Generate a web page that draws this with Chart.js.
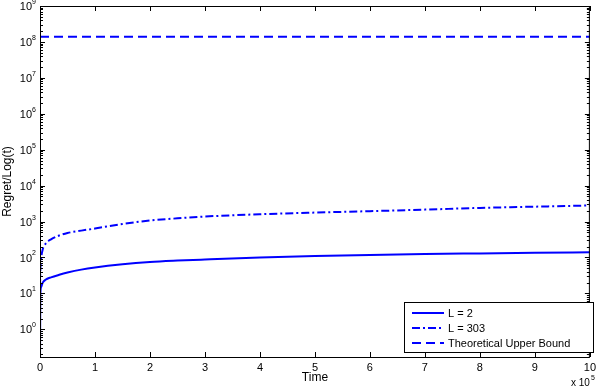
<!DOCTYPE html>
<html>
<head>
<meta charset="utf-8">
<script src="https://cdn.jsdelivr.net/npm/chart.js@4/dist/chart.umd.min.js"></script>
<style>
  html, body { margin: 0; padding: 0; background: #fff; }
  #wrap { width: 600px; height: 388px; }
</style>
</head>
<body>
<div id="wrap"><canvas id="regret" width="600" height="388"></canvas></div>
<script>
// time in units of 10^5
const times = [0, 0.005, 0.02, 0.05, 0.1, 0.2, 0.35, 0.5, 0.75, 1, 1.5, 2, 2.5, 3, 4, 5, 6, 7, 8, 9, 10];
const regretL2 = [0.1, 8, 15, 20, 24, 28, 33, 38, 46, 53, 65, 75, 82, 88, 100, 110, 118, 125, 130, 135, 140];
const regretL303 = [15, 40, 90, 170, 240, 320, 410, 480, 560, 640, 860, 1070, 1230, 1380, 1600, 1780, 1950, 2150, 2400, 2600, 2800];
const boundTimes = [0, 10];
const boundValues = [1.4e8, 1.4e8];
const xTicks = [0, 1, 2, 3, 4, 5, 6, 7, 8, 9, 10];
const yExponents = [0, 1, 2, 3, 4, 5, 6, 7, 8, 9];
const seriesLabels = ['L = 2', 'L = 303', 'Theoretical Upper Bound'];

const FONT = 'Liberation Sans, Arial, sans-serif';
const BLUE = '#0000ff';

const pts = (xs, ys) => xs.map((x, i) => ({ x: x, y: ys[i] }));

// box, inward ticks, y labels and legend, MATLAB style
const matlabAxes = {
  id: 'matlabAxes',
  afterDraw(chart) {
    const { ctx, chartArea: a, scales: { x, y } } = chart;
    ctx.save();
    ctx.strokeStyle = '#000';
    ctx.lineWidth = 1;
    ctx.strokeRect(a.left + 0.5, a.top + 0.5, a.right - a.left - 1, a.bottom - a.top);
    ctx.beginPath();
    xTicks.forEach(v => {
      const px = Math.round(x.getPixelForValue(v)) + 0.5;
      ctx.moveTo(px, a.bottom); ctx.lineTo(px, a.bottom - 5);
      ctx.moveTo(px, a.top); ctx.lineTo(px, a.top + 5);
    });
    for (let k = -1; k <= 9; k++) {
      for (let m = 1; m <= 9; m++) {
        const v = m * Math.pow(10, k);
        if (v < y.min || v > y.max) continue;
        const py = Math.round(y.getPixelForValue(v)) + 0.5;
        const len = m === 1 ? 5 : 3;
        ctx.moveTo(a.left, py); ctx.lineTo(a.left + len, py);
        ctx.moveTo(a.right, py); ctx.lineTo(a.right - len, py);
      }
    }
    ctx.stroke();

    // y tick labels 10^k
    ctx.fillStyle = '#000';
    ctx.textBaseline = 'middle';
    yExponents.forEach(e => {
      const py = y.getPixelForValue(Math.pow(10, e));
      ctx.font = '11px ' + FONT;
      ctx.textAlign = 'right';
      ctx.fillText('10', a.left - 8, py + 1);
      ctx.font = '7px ' + FONT;
      ctx.textAlign = 'left';
      ctx.fillText(String(e), a.left - 8, py - 4);
    });

    // x multiplier
    ctx.font = '10px ' + FONT;
    ctx.textAlign = 'left';
    ctx.fillText('x 10', 571, 383);
    ctx.font = '7px ' + FONT;
    ctx.fillText('5', 591, 378);

    // legend
    const lx = 404, ly = 302, lw = 189, lh = 50;
    ctx.fillStyle = '#fff';
    ctx.fillRect(lx, ly, lw, lh);
    ctx.strokeStyle = '#000';
    ctx.strokeRect(lx + 0.5, ly + 0.5, lw, lh);
    chart.data.datasets.forEach((ds, i) => {
      const yy = ly + 11 + i * 15;
      ctx.strokeStyle = ds.borderColor;
      ctx.lineWidth = 2;
      ctx.setLineDash(ds.borderDash || []);
      ctx.beginPath();
      ctx.moveTo(lx + 8, yy); ctx.lineTo(lx + 40, yy);
      ctx.stroke();
      ctx.setLineDash([]);
      ctx.fillStyle = '#000';
      ctx.font = '11px ' + FONT;
      ctx.textAlign = 'left';
      ctx.fillText(ds.label, lx + 44, yy + 1);
    });
    ctx.restore();
  }
};

new Chart(document.getElementById('regret'), {
  type: 'line',
  data: {
    datasets: [
      {
        label: seriesLabels[0],
        data: pts(times, regretL2),
        borderColor: BLUE,
        borderWidth: 2,
        cubicInterpolationMode: 'monotone'
      },
      {
        label: seriesLabels[1],
        data: pts(times, regretL303),
        borderColor: BLUE,
        borderWidth: 2,
        borderDash: [8, 3, 2, 3],
        cubicInterpolationMode: 'monotone'
      },
      {
        label: seriesLabels[2],
        data: pts(boundTimes, boundValues),
        borderColor: BLUE,
        borderWidth: 2,
        borderDash: [9, 5]
      }
    ]
  },
  options: {
    responsive: false,
    animation: false,
    devicePixelRatio: 1,
    layout: { padding: { top: 6, right: 3, left: 0, bottom: 0 } },
    elements: { point: { radius: 0 } },
    plugins: {
      legend: { display: false },
      tooltip: { enabled: false }
    },
    scales: {
      x: {
        type: 'linear',
        min: 0,
        max: 10,
        afterBuildTicks: s => { s.ticks = xTicks.map(v => ({ value: v })); },
        grid: { display: false, drawTicks: false },
        border: { display: false },
        ticks: { color: '#000', font: { family: FONT, size: 11 }, padding: 4, maxRotation: 0 },
        title: { display: true, text: 'Time', color: '#000', font: { family: FONT, size: 12 }, padding: { top: 0, bottom: 3 } },
        afterFit: s => { s.height = 31; }
      },
      y: {
        type: 'logarithmic',
        min: 0.17,
        max: 1e9,
        grid: { display: false, drawTicks: false },
        border: { display: false },
        ticks: { display: false },
        title: { display: true, text: 'Regret/Log(t)', color: '#000', font: { family: FONT, size: 12 }, padding: { top: 0, bottom: 0 } },
        afterFit: s => { s.width = 40; }
      }
    }
  },
  plugins: [matlabAxes]
});
</script>
</body>
</html>
